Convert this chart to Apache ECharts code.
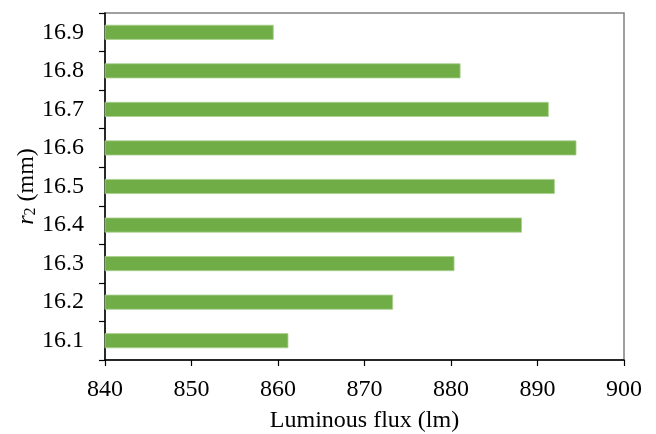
<!DOCTYPE html>
<html>
<head>
<meta charset="utf-8">
<script src="https://cdn.jsdelivr.net/npm/echarts@6/dist/echarts.min.js"></script>
<style>
  html, body { margin: 0; padding: 0; background: #fff; }
  #chart { width: 656px; height: 434px; }
</style>
</head>
<body>
<div id="chart"></div>
<script>
// Radius r2 (mm) for each bar, bottom to top
const radii = ['16.1', '16.2', '16.3', '16.4', '16.5', '16.6', '16.7', '16.8', '16.9'];
// Luminous flux (lm) for each radius
const flux = [861.2, 873.3, 880.4, 888.2, 892.0, 894.5, 891.3, 881.1, 859.5];
// Flux axis range and step
const fluxMin = 840;
const fluxMax = 900;
const fluxStep = 10;

const serif = '"Liberation Serif", "Times New Roman", serif';

const chart = echarts.init(document.getElementById('chart'), null, { renderer: 'canvas' });

chart.setOption({
  animation: false,
  backgroundColor: '#ffffff',
  grid: {
    left: 105,
    right: 32,
    top: 13,
    bottom: 74,
    containLabel: false,
    outerBoundsMode: 'none',
    show: true,
    borderColor: '#808080',
    borderWidth: 1.5,
    backgroundColor: 'transparent'
  },
  xAxis: {
    type: 'value',
    min: fluxMin,
    max: fluxMax,
    interval: fluxStep,
    name: 'Luminous flux (lm)',
    nameLocation: 'middle',
    nameGap: 49,
    nameTextStyle: { fontFamily: serif, fontSize: 24, color: '#000' },
    axisLine: { show: true, lineStyle: { color: '#000', width: 1.5 } },
    axisTick: { show: true, inside: false, length: 6, lineStyle: { color: '#000', width: 1.2 } },
    axisLabel: { fontFamily: serif, fontSize: 24, color: '#000', margin: 18 },
    splitLine: { show: false }
  },
  yAxis: {
    type: 'category',
    data: radii,
    boundaryGap: true,
    name: '{i|r}{s|2} (mm)',
    nameLocation: 'middle',
    nameRotate: 90,
    nameGap: 66,
    nameMoveOverlap: false,
    nameTextStyle: {
      fontFamily: serif,
      fontSize: 24,
      color: '#000',
      rich: {
        i: { fontFamily: serif, fontStyle: 'italic', fontSize: 24, color: '#000' },
        s: { fontFamily: serif, fontSize: 16, color: '#000', verticalAlign: 'bottom', padding: [9, 0, 0, 0] }
      }
    },
    axisLine: { show: true, lineStyle: { color: '#000', width: 1.5 } },
    axisTick: { show: true, inside: false, length: 6, alignWithLabel: false, lineStyle: { color: '#000', width: 1.2 } },
    axisLabel: { fontFamily: serif, fontSize: 24, color: '#000', margin: 21 },
    splitLine: { show: false }
  },
  series: [{
    type: 'bar',
    data: flux,
    barWidth: 15,
    itemStyle: { color: '#70AD47', borderColor: '#A9D18E', borderWidth: 0.8 }
  }]
});
</script>
</body>
</html>
